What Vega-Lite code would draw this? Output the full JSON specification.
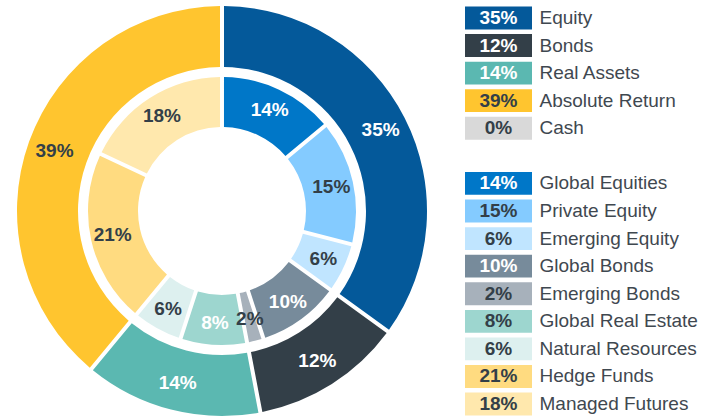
{
  "$schema": "https://vega.github.io/schema/vega-lite/v6.json",
  "padding": {"top": 4, "left": 0, "right": 0, "bottom": 0},
  "spacing": 21,
  "bounds": "flush",
  "background": "white",
  "config": {"view": {"stroke": null}, "font": "Liberation Sans"},
  "datasets": {
    "outer": [
      {"name": "Equity", "value": 0.35, "i": 1},
      {"name": "Bonds", "value": 0.12, "i": 2},
      {"name": "Real Assets", "value": 0.14, "i": 3},
      {"name": "Absolute Return", "value": 0.39, "i": 4},
      {"name": "Cash", "value": 0.0, "i": 5}
    ],
    "inner": [
      {"name": "Global Equities", "value": 0.14, "i": 1},
      {"name": "Private Equity", "value": 0.15, "i": 2},
      {"name": "Emerging Equity", "value": 0.06, "i": 3},
      {"name": "Global Bonds", "value": 0.10, "i": 4},
      {"name": "Emerging Bonds", "value": 0.02, "i": 5},
      {"name": "Global Real Estate", "value": 0.08, "i": 6},
      {"name": "Natural Resources", "value": 0.06, "i": 7},
      {"name": "Hedge Funds", "value": 0.21, "i": 8},
      {"name": "Managed Futures", "value": 0.18, "i": 9}
    ]
  },
  "hconcat": [
    {
      "width": 444,
      "height": 414,
      "encoding": {
        "theta": {"field": "value", "type": "quantitative", "stack": true, "scale": {"domain": [0, 1]}},
        "order": {"field": "i", "type": "quantitative"}
      },
      "layer": [
        {
          "data": {"name": "outer"},
          "transform": [{"filter": "datum.value > 0"}],
          "mark": {"type": "arc", "radius": 205, "radius2": 144, "padAngle": 0.016},
          "encoding": {
            "color": {"field": "name", "type": "nominal", "legend": null,
              "scale": {"domain": ["Equity", "Bonds", "Real Assets", "Absolute Return", "Cash", "Global Equities", "Private Equity", "Emerging Equity", "Global Bonds", "Emerging Bonds", "Global Real Estate", "Natural Resources", "Hedge Funds", "Managed Futures"],
                "range": ["#04599A", "#333F48", "#5BB8B1", "#FFC52F", "#D9D9D9", "#0077C8", "#84CBFF", "#C0E5FF", "#778B9B", "#A7B1BB", "#9DD6CF", "#DDF0EF", "#FFDB80", "#FFE8AD"]}}
          }
        },
        {
          "data": {"name": "inner"},
          "mark": {"type": "arc", "radius": 134, "radius2": 84, "padAngle": 0.025},
          "encoding": {
            "color": {"field": "name", "type": "nominal", "legend": null,
              "scale": {"domain": ["Equity", "Bonds", "Real Assets", "Absolute Return", "Cash", "Global Equities", "Private Equity", "Emerging Equity", "Global Bonds", "Emerging Bonds", "Global Real Estate", "Natural Resources", "Hedge Funds", "Managed Futures"],
                "range": ["#04599A", "#333F48", "#5BB8B1", "#FFC52F", "#D9D9D9", "#0077C8", "#84CBFF", "#C0E5FF", "#778B9B", "#A7B1BB", "#9DD6CF", "#DDF0EF", "#FFDB80", "#FFE8AD"]}}
          }
        },
        {
          "data": {"name": "outer"},
          "transform": [{"filter": "datum.value > 0"}],
          "mark": {"type": "text", "radius": 178, "fontSize": 19, "fontWeight": "bold"},
          "encoding": {
            "text": {"field": "value", "type": "quantitative", "format": ".0%"},
            "color": {"condition": {"test": "datum.name !== 'Absolute Return'", "value": "white"}, "value": "#333F48"}
          }
        },
        {
          "data": {"name": "inner"},
          "mark": {"type": "text", "radius": 112, "fontSize": 19, "fontWeight": "bold"},
          "encoding": {
            "text": {"field": "value", "type": "quantitative", "format": ".0%"},
            "color": {"condition": {"test": "indexof(['Global Equities','Global Bonds','Global Real Estate'], datum.name) >= 0", "value": "white"}, "value": "#333F48"}
          }
        }
      ]
    },
    {
      "width": 67,
      "height": 414,
      "encoding": {
        "y": {"field": "name", "type": "nominal", "sort": null,
          "scale": {"domain": ["Equity", "Bonds", "Real Assets", "Absolute Return", "Cash", " ", "Global Equities", "Private Equity", "Emerging Equity", "Global Bonds", "Emerging Bonds", "Global Real Estate", "Natural Resources", "Hedge Funds", "Managed Futures"], "paddingInner": 0.17, "paddingOuter": 0.09},
          "axis": {"orient": "right", "title": null, "ticks": false, "tickSize": 0, "domain": false, "grid": false, "labelPadding": 7, "labelFontSize": 19, "labelColor": "#3F4850", "labelFont": "Liberation Sans", "labelAlign": "left", "labelOverlap": false, "labelLimit": 300}},
        "color": {"field": "name", "type": "nominal", "legend": null,
          "scale": {"domain": ["Equity", "Bonds", "Real Assets", "Absolute Return", "Cash", "Global Equities", "Private Equity", "Emerging Equity", "Global Bonds", "Emerging Bonds", "Global Real Estate", "Natural Resources", "Hedge Funds", "Managed Futures"],
            "range": ["#04599A", "#333F48", "#5BB8B1", "#FFC52F", "#D9D9D9", "#0077C8", "#84CBFF", "#C0E5FF", "#778B9B", "#A7B1BB", "#9DD6CF", "#DDF0EF", "#FFDB80", "#FFE8AD"]}}
      },
      "layer": [
        {"data": {"name": "outer"}, "mark": {"type": "rect"}},
        {"data": {"name": "inner"}, "mark": {"type": "rect"}},
        {
          "data": {"name": "outer"},
          "mark": {"type": "text", "fontSize": 19, "fontWeight": "bold"},
          "encoding": {
            "text": {"field": "value", "type": "quantitative", "format": ".0%"},
            "color": {"condition": {"test": "indexof(['Equity','Bonds','Real Assets'], datum.name) >= 0", "value": "white"}, "value": "#333F48"}
          }
        },
        {
          "data": {"name": "inner"},
          "mark": {"type": "text", "fontSize": 19, "fontWeight": "bold"},
          "encoding": {
            "text": {"field": "value", "type": "quantitative", "format": ".0%"},
            "color": {"condition": {"test": "indexof(['Global Equities','Global Bonds'], datum.name) >= 0", "value": "white"}, "value": "#333F48"}
          }
        }
      ]
    }
  ]
}
